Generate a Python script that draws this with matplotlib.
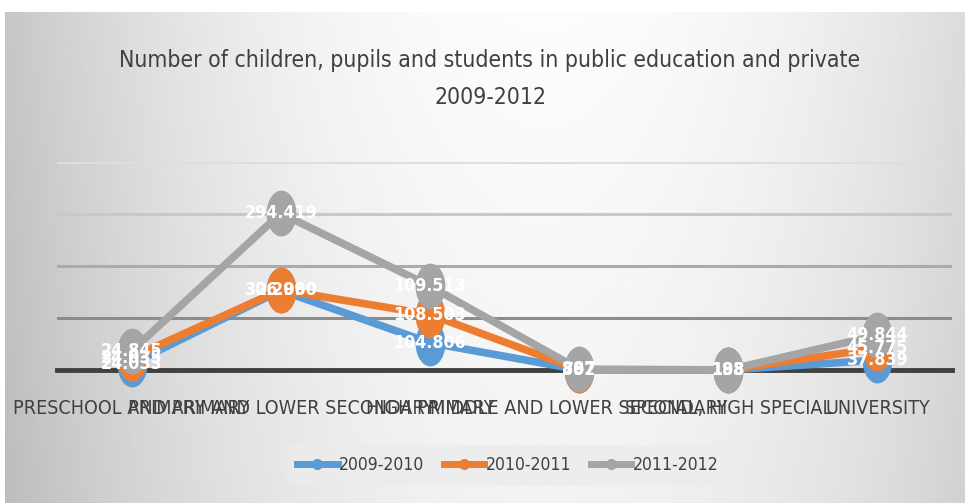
import numpy as np
import matplotlib
matplotlib.use("Agg")
import matplotlib.pyplot as plt
from matplotlib.path import Path
from matplotlib.lines import Line2D

plt.rcParams["font.family"] = ["Liberation Sans Narrow", "DejaVu Sans"]
plt.rcParams["font.stretch"] = "condensed"

# data (stacked line chart, values as shown in the labels)
categories = [
    "PRESCHOOL AND PRIMARY",
    "PRIMARY AND LOWER SECONDARY",
    "HIGH PRIMARY",
    "MIDDLE AND LOWER SECONDARY",
    "SPECIAL, HIGH SPECIAL",
    "UNIVERSITY",
]
series_names = ["2009-2010", "2010-2011", "2011-2012"]
vals_2009 = [24033, 306060, 104806, 797, 188, 37839]
vals_2010 = [24035, 2299, 108503, 802, 193, 45775]
vals_2011 = [24845, 294419, 109513, 887, 198, 49844]
colors = ["#5B9BD5", "#ED7D31", "#A5A5A5"]

W, H = 965, 503
fig = plt.figure(figsize=(W / 100, H / 100), dpi=100)
renderer = fig.canvas.get_renderer()


def size_for(sample, target_px, base=14):
    # font size that makes `sample` about target_px wide
    t = fig.text(0, 0, sample, fontsize=base)
    w = t.get_window_extent(renderer).width
    t.remove()
    return base * target_px / w


# chart area background: grey gradient, white margin top/left
bg = fig.add_axes([5 / W, 0, 1 - 5 / W, 1 - 12 / H], zorder=-5)
gx = np.linspace(0, 1, 400)
gy = np.linspace(0, 1, 200)
X, Y = np.meshgrid(gx, gy)
shade = 0.99 - 0.21 * ((X - 0.56) / 0.56) ** 2 - 0.04 * Y
bg.imshow(shade, cmap="gray", vmin=0, vmax=1, aspect="auto", extent=[0, 1, 0, 1])
bg.set_axis_off()

x0, x1 = 57 / W, 952 / W
yb, yt = (H - 370) / H, (H - 162) / H
ax = fig.add_axes([x0, yb, x1 - x0, yt - yb])
ax.patch.set_alpha(0)

data = np.array([vals_2009, vals_2010, vals_2011], dtype=float) / 1000.0
stacked = np.cumsum(data, axis=0)
xs = np.arange(len(categories))

t = np.linspace(0, 2 * np.pi, 60)
ellipse = Path(np.column_stack([0.65 * np.cos(t), np.sin(t)]))

for i in range(3):
    ax.plot(xs, stacked[i], color=colors[i], lw=5.5, marker=ellipse,
            markersize=33, markeredgewidth=0, solid_joinstyle="round",
            clip_on=False, zorder=3 + i)

lab_size = size_for("294.419", 66)
for i in range(3):
    for j in range(len(xs)):
        lab = f"{int(round(data[i, j] * 1000)):,}".replace(",", ".")
        ax.text(xs[j], stacked[i, j], lab, ha="center", va="center",
                color="white", fontsize=lab_size, fontweight="bold", zorder=10,
                clip_on=False)

ax.set_xlim(-0.5, len(categories) - 0.5)
ax.set_ylim(0, 800)
ax.set_yticks([0, 200, 400, 600, 800])
ax.set_yticklabels([])
ax.tick_params(axis="y", length=0)
ax.grid(axis="y", lw=2.2)
for gl, c in zip(ax.get_ygridlines(), ["#404040", "#8c8c8c", "#ababab", "#c8c8c8", "#dedede"]):
    gl.set_color(c)
ax.set_axisbelow(True)
for s in ["top", "left", "right"]:
    ax.spines[s].set_visible(False)
ax.spines["bottom"].set_color("#404040")
ax.spines["bottom"].set_linewidth(3.5)
ax.set_xticks(xs)
ax.set_xticklabels(categories, fontsize=size_for("UNIVERSITY", 105), color="#404040")
ax.tick_params(axis="x", length=0, pad=21)

title_size = size_for("Number of children, pupils and students in public education and private", 748)
fig.text(490 / W, 1 - 60 / H, "Number of children, pupils and students in public education and private",
         ha="center", va="center", fontsize=title_size, color="#404040")
fig.text(490 / W, 1 - 98 / H, "2009-2012", ha="center", va="center", fontsize=title_size, color="#404040")

handles = [Line2D([0], [0], color=c, lw=5, marker="o", markersize=7) for c in colors]
fig.legend(handles, series_names, loc="center", bbox_to_anchor=(508 / W, 1 - 465 / H), ncol=3,
           frameon=True, facecolor="#ececec", edgecolor="none", framealpha=0.8,
           fontsize=size_for("2009-2010", 86),
           handlelength=2.3, handletextpad=0.1, columnspacing=1.1, labelcolor="#404040",
           borderpad=0.6)

fig.savefig("out.png", dpi=100)
